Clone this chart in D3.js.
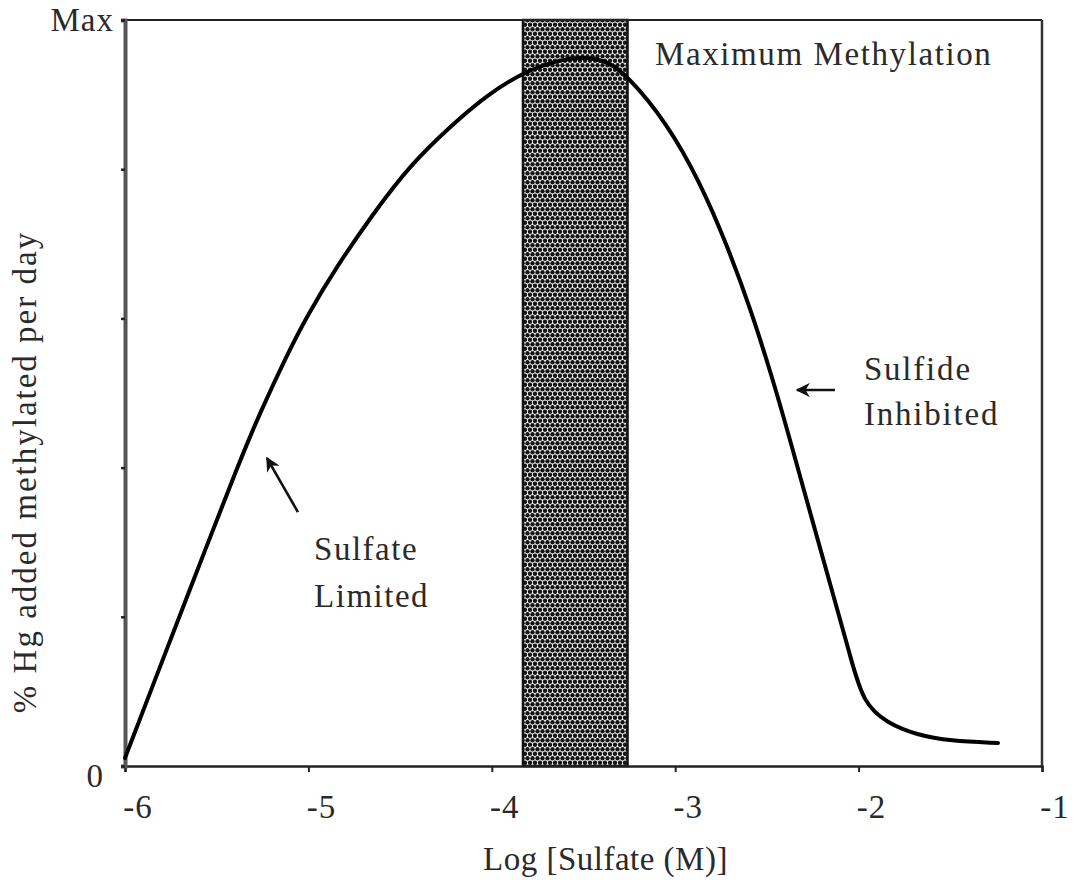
<!DOCTYPE html>
<html>
<head>
<meta charset="utf-8">
<script src="https://cdn.jsdelivr.net/npm/d3@7"></script>
<style>
  html, body { margin: 0; padding: 0; background: #fff; }
  svg { display: block; }
  text { font-family: "Liberation Serif", "DejaVu Serif", serif; fill: #2a2a2a; }
</style>
</head>
<body>
<svg id="chart" width="1076" height="880"></svg>
<script>
// ---- data ----
const logSulfate = [-6.000, -5.847, -5.662, -5.373, -5.264, -5.117, -5.008, -4.844, -4.648, -4.446, -4.212, -4.026, -3.819, -3.612, -3.492, -3.372, -3.263, -3.045, -2.865, -2.718, -2.592, -2.456, -2.336, -2.265, -2.140, -2.047, -1.976, -1.845, -1.682, -1.502, -1.240];
const methylation = [0.054, 0.544, 1.133, 2.051, 2.366, 2.755, 3.016, 3.351, 3.700, 4.028, 4.303, 4.497, 4.658, 4.739, 4.752, 4.725, 4.631, 4.310, 3.914, 3.492, 3.076, 2.547, 2.017, 1.702, 1.153, 0.744, 0.422, 0.288, 0.208, 0.168, 0.154];
const xTicks = [-6, -5, -4, -3, -2, -1];
const xTickLabels = ["-6", "-5", "-4", "-3", "-2", "-1"];
const yTicks = [0, 1, 2, 3, 4, 5];
const yTickLabels = ["0", "", "", "", "", "Max"];
const maxBand = [-3.83, -3.26];
const xTitle = "Log [Sulfate (M)]";
const yTitle = "% Hg added methylated per day";

// ---- layout ----
const svg = d3.select("#chart");
const x = d3.scaleLinear().domain([-6, -1]).range([125, 1042]);
const y = d3.scaleLinear().domain([0, 5]).range([766, 20]);
const FS = 33;

// stipple pattern
const defs = svg.append("defs");
const pat = defs.append("pattern").attr("id", "stipple")
  .attr("patternUnits", "userSpaceOnUse").attr("width", 10).attr("height", 9);
pat.append("rect").attr("width", 10).attr("height", 9).attr("fill", "#fafafa");
[[2.5, 2.2], [7.5, 2.2], [0, 6.7], [5, 6.7], [10, 6.7]].forEach(([cx, cy]) => {
  pat.append("circle").attr("cx", cx).attr("cy", cy).attr("r", 2.2).attr("fill", "#151515");
});

// band
svg.append("rect")
  .attr("x", x(maxBand[0])).attr("y", y(5))
  .attr("width", x(maxBand[1]) - x(maxBand[0]))
  .attr("height", y(0) - y(5))
  .attr("fill", "url(#stipple)")
  .attr("stroke", "#111").attr("stroke-width", 2.5);

// frame (top & right)
svg.append("line").attr("x1", x(-6)).attr("x2", x(-1)).attr("y1", y(5)).attr("y2", y(5))
  .attr("stroke", "#222").attr("stroke-width", 2);
svg.append("line").attr("x1", x(-1)).attr("x2", x(-1)).attr("y1", y(5)).attr("y2", y(0))
  .attr("stroke", "#333").attr("stroke-width", 2.5);

// axes
const xAxis = d3.axisBottom(x).tickValues(xTicks).tickSize(6).tickFormat(() => "");
const gx = svg.append("g").attr("transform", `translate(0,${y(0)})`).call(xAxis);
gx.select(".domain").attr("stroke", "#222").attr("stroke-width", 2.5);
gx.selectAll(".tick line").attr("stroke", "#222").attr("stroke-width", 2);

const yAxis = d3.axisLeft(y).tickValues(yTicks).tickSize(4).tickFormat(() => "");
const gy = svg.append("g").attr("transform", `translate(${x(-6)},0)`).call(yAxis);
gy.select(".domain").attr("stroke", "#555").attr("stroke-width", 4);
gy.selectAll(".tick line").attr("stroke", "#222").attr("stroke-width", 2.5);

// tick labels
svg.selectAll("text.xtl").data(xTicks).enter().append("text")
  .attr("class", "xtl")
  .attr("x", d => x(d) + 13).attr("y", 818)
  .attr("text-anchor", "middle").attr("font-size", FS).attr("letter-spacing", 1)
  .text((d, i) => xTickLabels[i]);

svg.selectAll("text.ytl").data(yTicks.filter((d, i) => yTickLabels[i] !== "")).enter().append("text")
  .attr("class", "ytl")
  .attr("x", d => d === 0 ? 104 : 114).attr("y", d => d === 0 ? 787 : 31)
  .attr("text-anchor", "end").attr("font-size", FS).attr("letter-spacing", 1)
  .text(d => yTickLabels[yTicks.indexOf(d)]);

// curve
const line = d3.line().x(d => x(d[0])).y(d => y(d[1])).curve(d3.curveBasis);
svg.append("path")
  .datum(logSulfate.map((v, i) => [v, methylation[i]]))
  .attr("d", line)
  .attr("fill", "none").attr("stroke", "#000").attr("stroke-width", 4)
  .attr("stroke-linejoin", "round").attr("stroke-linecap", "round");

// axis titles
svg.append("text").attr("x", 483).attr("y", 870).attr("text-anchor", "start")
  .attr("font-size", FS).attr("letter-spacing", 0.5).text(xTitle);
svg.append("text").attr("transform", "translate(36,472) rotate(-90)")
  .attr("text-anchor", "middle").attr("font-size", FS).attr("letter-spacing", 2).text(yTitle);

// annotations
function ann(lines, xd, yd, dy, ls) {
  const t = svg.append("text").attr("x", x(xd)).attr("y", y(yd)).attr("font-size", FS)
    .attr("letter-spacing", ls);
  lines.forEach((s, i) => t.append("tspan").attr("x", x(xd)).attr("dy", i === 0 ? 0 : dy).text(s));
}
ann(["Maximum Methylation"], -3.11, 4.70, 0, 1.6);
ann(["Sulfide", "Inhibited"], -1.971, 2.587, 45, 1.8);
ann(["Sulfate", "Limited"], -4.969, 1.381, 47, 1.5);

// arrows
defs.append("marker").attr("id", "arrowhead")
  .attr("viewBox", "0 0 10 10").attr("refX", 9).attr("refY", 5)
  .attr("markerWidth", 5.5).attr("markerHeight", 5.5).attr("orient", "auto")
  .attr("markerUnits", "strokeWidth")
  .append("path").attr("d", "M0,0 L10,5 L0,10 L3,5 Z").attr("fill", "#111");
function arrow(x0, y0, x1, y1) {
  svg.append("line").attr("x1", x(x0)).attr("y1", y(y0)).attr("x2", x(x1)).attr("y2", y(y1))
    .attr("stroke", "#111").attr("stroke-width", 2.6).attr("marker-end", "url(#arrowhead)");
}
arrow(-5.057, 1.702, -5.226, 2.064);
arrow(-2.129, 2.520, -2.336, 2.520);
</script>
</body>
</html>
